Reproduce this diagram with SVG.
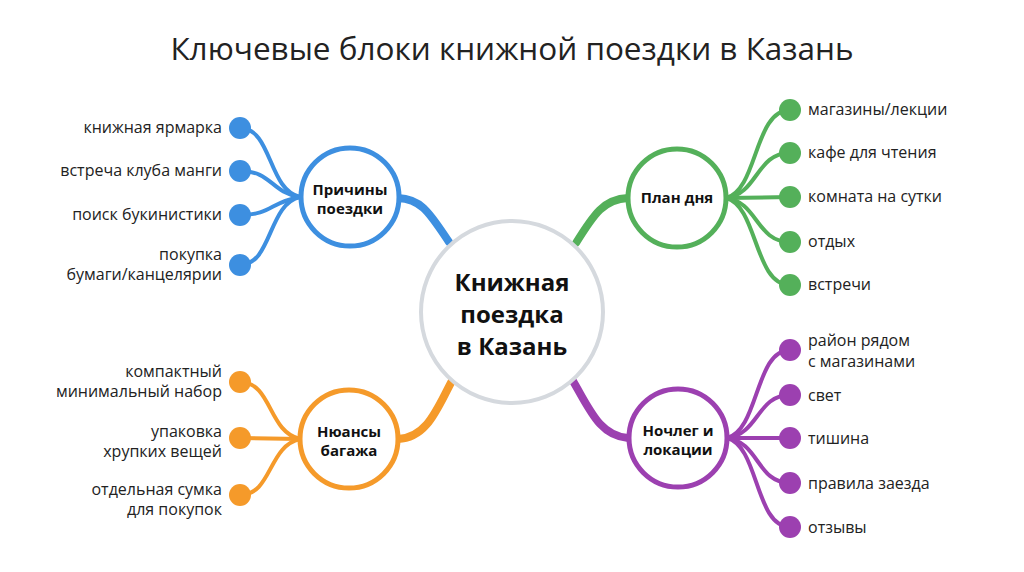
<svg xmlns="http://www.w3.org/2000/svg" width="1024" height="572" viewBox="0 0 1024 572">
<style>
.title{font-family:"Open Sans","Noto Sans",sans-serif;font-size:31.5px;fill:#222;text-anchor:middle}
.center{font-family:"Open Sans","Noto Sans",sans-serif;font-size:24px;font-weight:700;fill:#111;text-anchor:middle}
.hub{font-family:"Open Sans","Noto Sans",sans-serif;font-size:15px;font-weight:700;fill:#111;text-anchor:middle}
.leafL{font-family:"Open Sans","Noto Sans",sans-serif;font-size:16px;fill:#222;text-anchor:end}
.leafR{font-family:"Open Sans","Noto Sans",sans-serif;font-size:16px;fill:#222;text-anchor:start}
.main{fill:none;stroke-width:8;stroke-linecap:round}
.br{fill:none;stroke-width:4;stroke-linecap:round}
.blue{stroke:#3d8fe0}.green{stroke:#54b05a}.orange{stroke:#f59a2a}.purple{stroke:#9c40b0}
.ring{fill:#fff;stroke-width:5}
</style>
<rect width="1024" height="572" fill="#fff"/>
<text class="title" x="512" y="60">Ключевые блоки книжной поездки в Казань</text>
<g id="connectors">
<path class="main blue" d="M449 242 C430 214,422 199,398 198"/>
<path class="main green" d="M576 243 C594 214,604 199,628 198"/>
<path class="main orange" d="M453 379 C438 406,428 438,398 439"/>
<path class="main purple" d="M573 381 C590 410,600 436,628 438"/>
<g class="br blue">
<path d="M240 128 C272 128,268 190,300 197"/>
<path d="M240 171 C272 171,270 192,300 197"/>
<path d="M240 215 C272 215,270 202,300 197"/>
<path d="M240 265 C272 265,268 204,300 197"/>
</g>
<g class="br orange">
<path d="M240 382 C272 382,268 432,300 439"/>
<path d="M240 438 L300 439"/>
<path d="M240 495 C272 495,268 446,300 439"/>
</g>
<g class="br green">
<path d="M726 198 C758 190,754 110,790 110"/>
<path d="M726 198 C758 194,756 153,790 153"/>
<path d="M726 198 L790 197"/>
<path d="M726 198 C758 202,756 242,790 242"/>
<path d="M726 198 C758 206,754 285,790 285"/>
</g>
<g class="br purple">
<path d="M727 438 C759 430,755 350,790 350"/>
<path d="M727 438 C759 434,757 395,790 395"/>
<path d="M727 438 L790 438"/>
<path d="M727 438 C759 442,757 483,790 483"/>
<path d="M727 438 C759 446,755 527,790 527"/>
</g>
</g>
<g id="center">
<circle cx="512" cy="312" r="91" fill="#fff" stroke="#d5d9de" stroke-width="4"/>
<text class="center" x="512" y="291">Книжная</text>
<text class="center" x="512" y="323">поездка</text>
<text class="center" x="512" y="355">в Казань</text>
</g>
<g id="reasons">
<circle class="ring blue" cx="350" cy="197" r="49"/>
<text class="hub" x="350" y="195">Причины</text>
<text class="hub" x="350" y="214">поездки</text>
</g>
<g id="plan">
<circle class="ring green" cx="677" cy="198" r="49"/>
<text class="hub" x="677" y="203">План дня</text>
</g>
<g id="baggage">
<circle class="ring orange" cx="349" cy="439" r="49"/>
<text class="hub" x="349" y="437">Нюансы</text>
<text class="hub" x="349" y="456">багажа</text>
</g>
<g id="lodging">
<circle class="ring purple" cx="678" cy="438" r="49"/>
<text class="hub" x="678" y="436">Ночлег и</text>
<text class="hub" x="678" y="455">локации</text>
</g>
<g id="reasons-leaves" fill="#3d8fe0">
<circle cx="240" cy="128" r="11"/><text class="leafL" x="222" y="133">книжная ярмарка</text>
<circle cx="240" cy="171" r="11"/><text class="leafL" x="222" y="176">встреча клуба манги</text>
<circle cx="240" cy="215" r="11"/><text class="leafL" x="222" y="220">поиск букинистики</text>
<circle cx="240" cy="265" r="11"/><text class="leafL" x="222" y="260">покупка</text><text class="leafL" x="222" y="280">бумаги/канцелярии</text>
</g>
<g id="plan-leaves" fill="#54b05a">
<circle cx="790" cy="110" r="11"/><text class="leafR" x="808" y="115">магазины/лекции</text>
<circle cx="790" cy="153" r="11"/><text class="leafR" x="808" y="158">кафе для чтения</text>
<circle cx="790" cy="197" r="11"/><text class="leafR" x="808" y="202">комната на сутки</text>
<circle cx="790" cy="242" r="11"/><text class="leafR" x="808" y="247">отдых</text>
<circle cx="790" cy="285" r="11"/><text class="leafR" x="808" y="290">встречи</text>
</g>
<g id="baggage-leaves" fill="#f59a2a">
<circle cx="240" cy="382" r="11"/><text class="leafL" x="222" y="377">компактный</text><text class="leafL" x="222" y="397">минимальный набор</text>
<circle cx="240" cy="438" r="11"/><text class="leafL" x="222" y="437">упаковка</text><text class="leafL" x="222" y="457">хрупких вещей</text>
<circle cx="240" cy="495" r="11"/><text class="leafL" x="222" y="495">отдельная сумка</text><text class="leafL" x="222" y="515">для покупок</text>
</g>
<g id="lodging-leaves" fill="#9c40b0">
<circle cx="790" cy="350" r="11"/><text class="leafR" x="808" y="346">район рядом</text><text class="leafR" x="808" y="367">с магазинами</text>
<circle cx="790" cy="395" r="11"/><text class="leafR" x="808" y="401">свет</text>
<circle cx="790" cy="438" r="11"/><text class="leafR" x="808" y="444">тишина</text>
<circle cx="790" cy="483" r="11"/><text class="leafR" x="808" y="489">правила заезда</text>
<circle cx="790" cy="527" r="11"/><text class="leafR" x="808" y="533">отзывы</text>
</g>
</svg>
